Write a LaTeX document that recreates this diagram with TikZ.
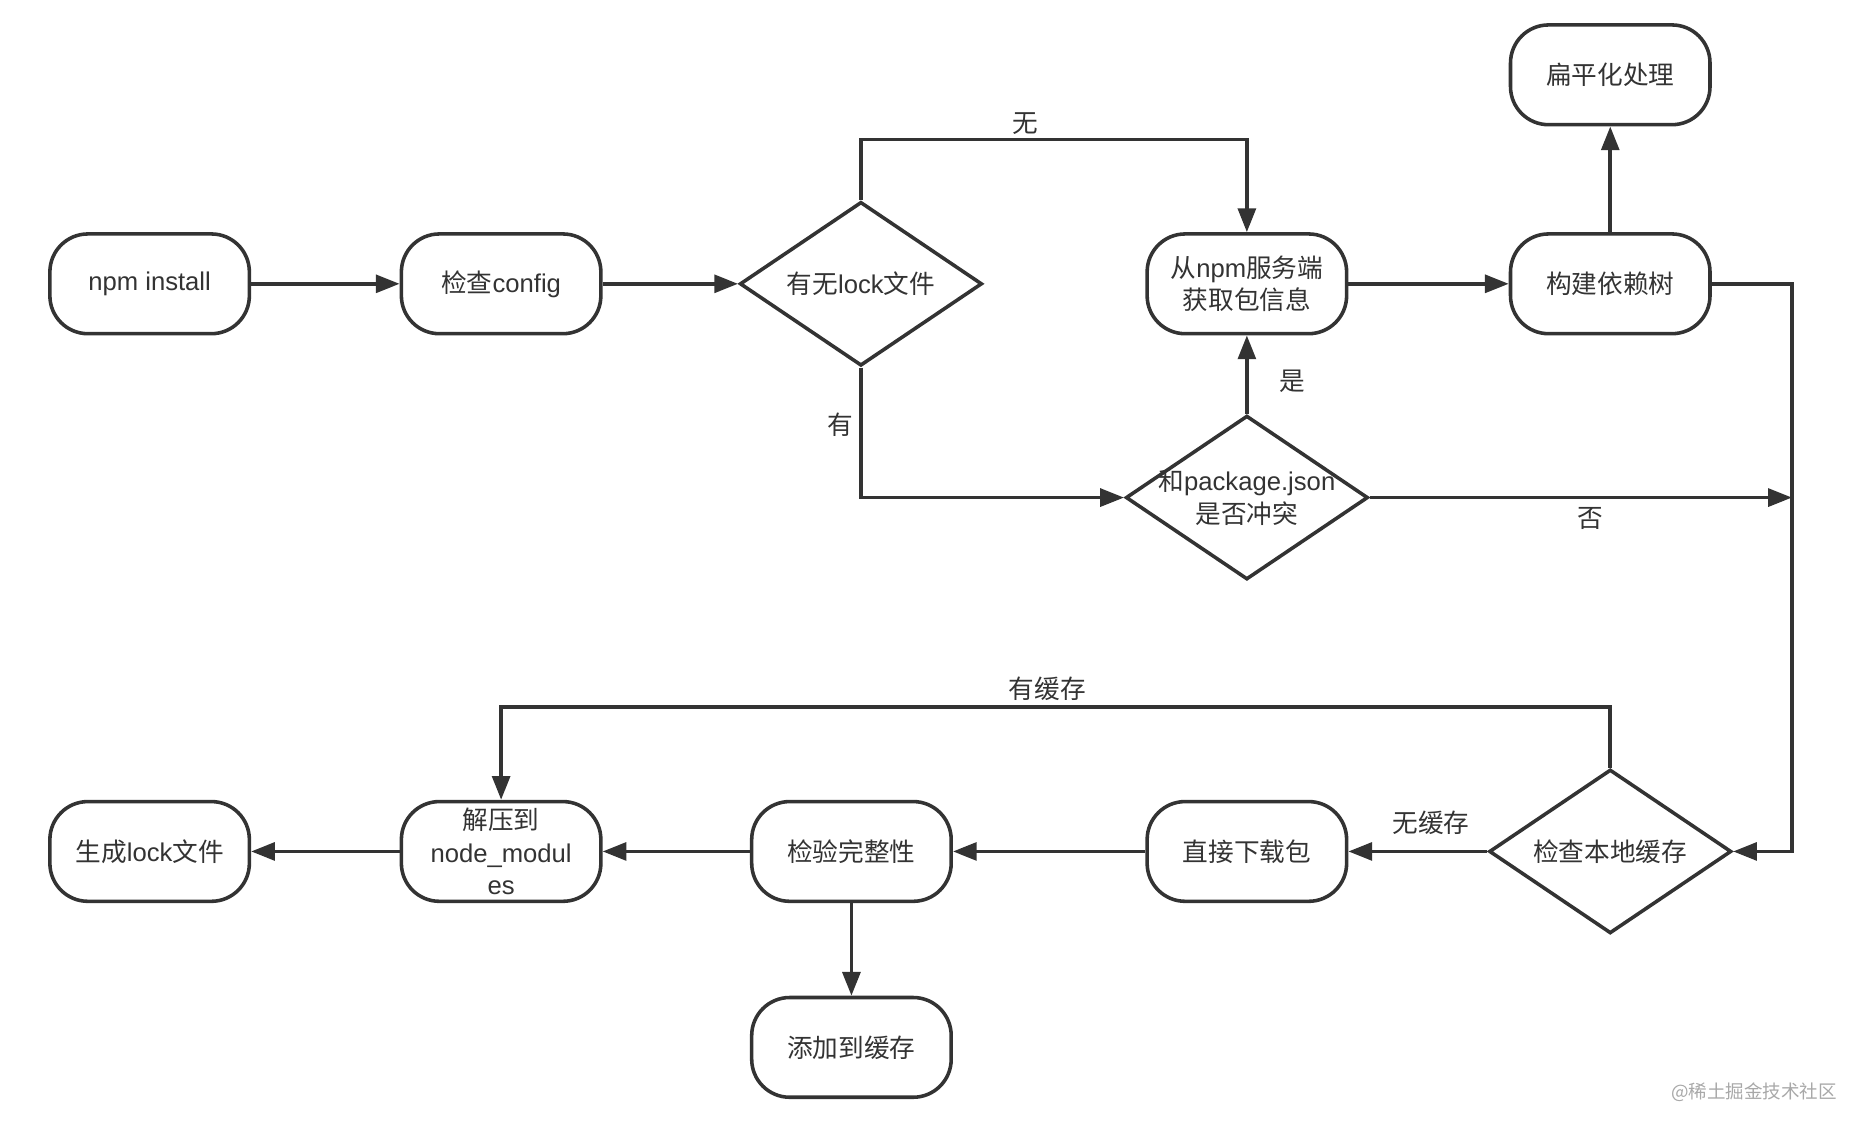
\documentclass[tikz,border=0pt]{standalone}
\usepackage{fontspec}
\setmainfont{Noto Sans CJK SC}
\newfontfamily\lat{Liberation Sans}
\usetikzlibrary{shapes.geometric,arrows.meta}
\definecolor{ink}{HTML}{333333}
\definecolor{wm}{HTML}{A8A8A8}
\begin{document}
\begin{tikzpicture}[x=0.5pt,y=-0.5pt,
  every node/.style={text=ink,font=\fontsize{10.8}{13.7}\selectfont},
  box/.style={draw=ink,line width=1.5pt,rounded corners=16pt,minimum width=84pt,minimum height=42pt,inner sep=0pt,align=center},
  dia/.style={draw=ink,line width=1.5pt,diamond,minimum width=102pt,minimum height=69pt,inner sep=0pt},
  arr/.style={draw=ink,line width=1.5pt,-{Triangle[length=10pt,width=7.5pt]}},
  lbl/.style={inner sep=1pt}]
\useasboundingbox (0,0) rectangle (1568,953);
% nodes
\node[box] (npm) at (126,239) {{\lat npm install}};
\node[box] (cfg) at (422,239) {检查{\lat config}};
\node[dia,label={[align=center]center:有无{\lat lock}文件}] (d1) at (725,239) {};
\node[box] (srv) at (1050,239) {从{\lat npm}服务端\\获取包信息};
\node[box] (tree) at (1356,239) {构建依赖树};
\node[box] (flat) at (1356,63) {扁平化处理};
\node[dia,label={[align=center]center:和{\lat package.json}\\是否冲突}] (d2) at (1050,419) {};
\node[dia,label={[align=center]center:检查本地缓存}] (d3) at (1356,717) {};
\node[box] (dl) at (1050,717) {直接下载包};
\node[box] (ver) at (717,717) {检验完整性};
\node[box] (unz) at (422,717) {解压到\\{\lat node\_modul}\\{\lat es}};
\node[box] (gen) at (126,717) {生成{\lat lock}文件};
\node[box] (add) at (717,882) {添加到缓存};
\coordinate (j) at (1509,419);
% connectors
\draw[arr] (npm) -- (cfg);
\draw[arr] (cfg) -- (d1);
\draw[arr] (d1.north) -- ++(0,-51) -| (srv.north);
\draw[arr] (d1.south) |- (d2.west);
\draw[arr] (d2.north) -- (srv.south);
\draw[arr] (d2.east) -- (j);
\draw[arr] (srv) -- (tree);
\draw[arr] (tree.north) -- (flat.south);
\draw[arr] (tree.east) -- (1509,239) |- (d3.east);
\draw[arr] (d3.west) -- (dl.east);
\draw[arr] (dl) -- (ver);
\draw[arr] (ver) -- (unz);
\draw[arr] (unz) -- (gen);
\draw[arr] (ver.south) -- (add.north);
\draw[arr] (d3.north) -- ++(0,-51) -| (unz.north);
% labels
\node[lbl] (l1) at (863,104) {无};
\node[lbl] (l2) at (708,358) {有};
\node[lbl] (l3) at (1088,321) {是};
\node[lbl] (l4) at (1339,437) {否};
\node[lbl] (l5) at (1205,693) {无缓存};
\node[lbl] (l6) at (882,580) {有缓存};
\node[lbl,text=wm,font=\fontsize{7.8}{9}\selectfont] (wm) at (1477,920) {@稀土掘金技术社区};
\end{tikzpicture}
\end{document}
